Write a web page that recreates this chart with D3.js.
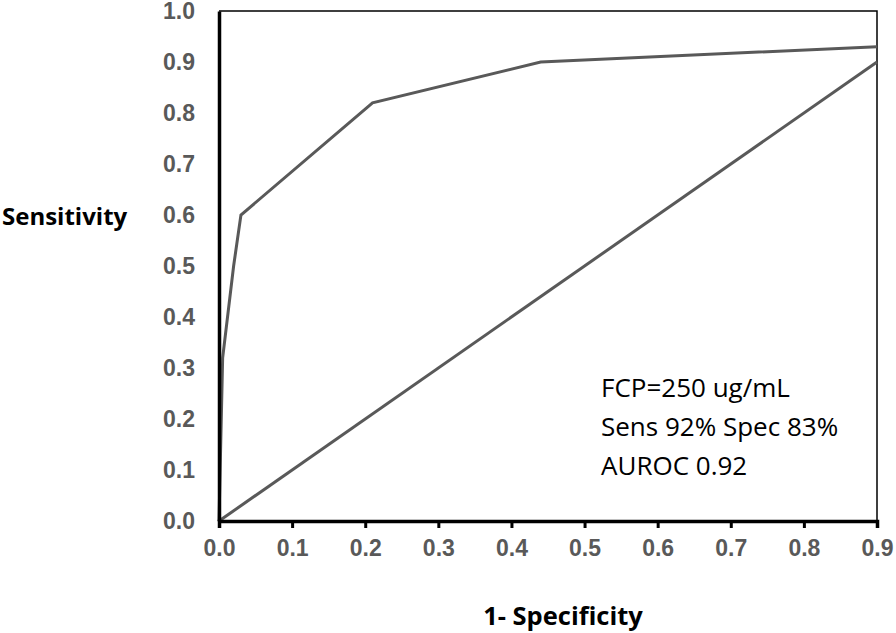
<!DOCTYPE html>
<html>
<head>
<meta charset="utf-8">
<script src="https://cdn.jsdelivr.net/npm/d3@7"></script>
<style>
  body { margin: 0; background: #fff; }
  svg { display: block; }
</style>
</head>
<body>
<div id="chart"></div>
<script>
// ROC curve points (1 - specificity, sensitivity)
const rocFpr = [0, 0.005, 0.02, 0.03, 0.21, 0.44, 0.9];
const rocTpr = [0, 0.32, 0.5, 0.6, 0.82, 0.9, 0.93];
// reference diagonal
const diagFpr = [0, 0.9];
const diagTpr = [0, 0.9];
const xTicks = [0, 0.1, 0.2, 0.3, 0.4, 0.5, 0.6, 0.7, 0.8, 0.9];
const yTicks = [0, 0.1, 0.2, 0.3, 0.4, 0.5, 0.6, 0.7, 0.8, 0.9, 1.0];
const noteLines = ['FCP=250 ug/mL', 'Sens 92% Spec 83%', 'AUROC 0.92'];

const W = 896, H = 633;
const margin = { top: 11, right: 19, bottom: 112, left: 219 };
const width = W - margin.left - margin.right;
const height = H - margin.top - margin.bottom;

const x = d3.scaleLinear().domain([0, 0.9]).range([0, width]);
const y = d3.scaleLinear().domain([0, 1]).range([height, 0]);

const svg = d3.select('#chart').append('svg')
  .attr('width', W)
  .attr('height', H);

const g = svg.append('g')
  .attr('transform', `translate(${margin.left},${margin.top})`);

// top and right frame (thin)
g.append('path')
  .attr('d', `M0,0H${width}V${height}`)
  .attr('fill', 'none')
  .attr('stroke', '#000')
  .attr('stroke-width', 1.5);

// lines
const line = d3.line().x(d => x(d[0])).y(d => y(d[1]));

g.append('path')
  .datum(diagFpr.map((v, i) => [v, diagTpr[i]]))
  .attr('d', line)
  .attr('fill', 'none')
  .attr('stroke', '#595959')
  .attr('stroke-width', 3);

g.append('path')
  .datum(rocFpr.map((v, i) => [v, rocTpr[i]]))
  .attr('d', line)
  .attr('fill', 'none')
  .attr('stroke', '#595959')
  .attr('stroke-width', 3)
  .attr('stroke-linejoin', 'miter');

const tickFont = sel => sel
  .attr('fill', '#595959')
  .style('font-family', 'Arial, "Liberation Sans", sans-serif')
  .style('font-weight', 'bold')
  .style('font-size', '23px');

// x axis
const xAxis = g.append('g')
  .attr('transform', `translate(0,${height})`)
  .call(d3.axisBottom(x).tickValues(xTicks).tickFormat(d3.format('.1f')).tickSize(7).tickPadding(12));
xAxis.select('.domain').attr('stroke', '#000').attr('stroke-width', 3.5);
xAxis.selectAll('.tick line').attr('stroke', '#000').attr('stroke-width', 3);
xAxis.selectAll('text').call(tickFont);

// y axis
const yAxis = g.append('g')
  .call(d3.axisLeft(y).tickValues(yTicks).tickFormat(d3.format('.1f')).tickSize(0).tickPadding(24));
yAxis.select('.domain').attr('stroke', '#000').attr('stroke-width', 3.5);
yAxis.selectAll('text').call(tickFont);

// axis titles
svg.append('text')
  .attr('x', 2)
  .attr('y', 225)
  .attr('fill', '#000')
  .style('font-family', '"Open Sans", sans-serif')
  .style('font-weight', 'bold')
  .style('font-size', '24px')
  .text('Sensitivity');

svg.append('text')
  .attr('x', 563)
  .attr('y', 625)
  .attr('text-anchor', 'middle')
  .attr('fill', '#000')
  .style('font-family', '"Open Sans", sans-serif')
  .style('font-weight', 'bold')
  .style('font-size', '25.5px')
  .text('1- Specificity');

// annotation
svg.append('g')
  .selectAll('text')
  .data(noteLines)
  .join('text')
  .attr('x', 601)
  .attr('y', (d, i) => 397 + i * 39)
  .attr('fill', '#000')
  .style('font-family', '"Open Sans", sans-serif')
  .style('font-size', '26px')
  .text(d => d);
</script>
</body>
</html>
